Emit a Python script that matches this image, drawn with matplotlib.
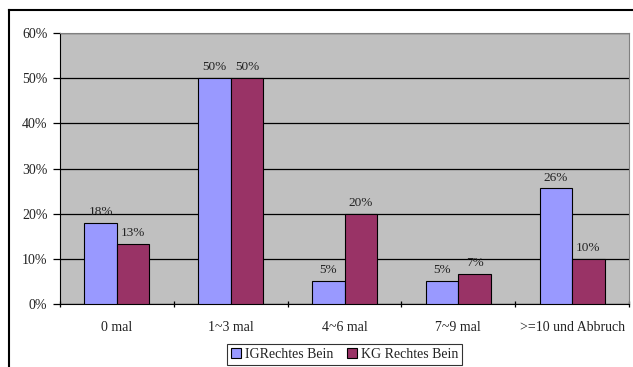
import numpy as np
import matplotlib.pyplot as plt
from matplotlib.lines import Line2D
from matplotlib.patches import Patch

categories = ['0 mal', '1~3 mal', '4~6 mal', '7~9 mal', '>=10 und Abbruch']
ig_values = [0.180, 0.500, 0.051, 0.051, 0.256]
kg_values = [0.133, 0.500, 0.200, 0.067, 0.100]
series_names = ['IGRechtes Bein', 'KG Rechtes Bein']
y_ticks = [0.0, 0.1, 0.2, 0.3, 0.4, 0.5, 0.6]

plt.rcParams['font.family'] = ['Liberation Serif', 'DejaVu Serif']
W, H = 633, 367
fig = plt.figure(figsize=(W / 100, H / 100), dpi=100)

# plot area in pixel coordinates
left, right, top, bottom = 60, 629, 33, 304
ax = fig.add_axes([left / W, 1 - bottom / H, (right - left) / W, (bottom - top) / H])
ax.set_facecolor('#C0C0C0')

x = np.arange(len(categories))
w = 0.285
blue, red = '#9999FF', '#993366'
txt = '#222222'
b1 = ax.bar(x - w / 2, ig_values, w, color=blue, edgecolor='black', linewidth=0.8, zorder=3)
b2 = ax.bar(x + w / 2, kg_values, w, color=red, edgecolor='black', linewidth=0.8, zorder=3)

for bars, vals in ((b1, ig_values), (b2, kg_values)):
    for b, v in zip(bars, vals):
        ax.annotate(f'{v * 100:.0f}%', (b.get_x() + b.get_width() / 2, v),
                    xytext=(0, 3.5), textcoords='offset points',
                    ha='center', va='bottom', fontsize=9.5, color=txt, zorder=4)

ax.set_xlim(-0.5, len(categories) - 0.5)
ax.set_ylim(0, 0.6)
ax.set_yticks(y_ticks)
ax.set_yticklabels([f'{t * 100:.0f}%' for t in y_ticks], fontsize=10, color=txt)
ax.yaxis.grid(True, color='black', linewidth=0.9, zorder=1)

ax.set_xticks(x)
ax.set_xticklabels(categories, fontsize=10, color=txt)
ax.set_xticks(np.arange(-0.5, len(categories)), minor=True)
ax.tick_params(axis='x', which='major', length=0, pad=12)
ax.tick_params(axis='x', which='minor', length=5, width=0.9, direction='inout')
ax.tick_params(axis='y', length=5, width=0.9, pad=4)

for side in ('top', 'right'):
    ax.spines[side].set_color('#808080')
ax.spines['left'].set_color('black')
ax.spines['bottom'].set_color('black')

handles = [Patch(facecolor=blue, edgecolor='black', linewidth=0.8),
           Patch(facecolor=red, edgecolor='black', linewidth=0.8)]
leg = fig.legend(handles, series_names, loc='center', ncol=2,
                 bbox_to_anchor=(344.5 / W, 1 - 354.5 / H),
                 fontsize=10, frameon=True, fancybox=False, edgecolor='black',
                 handlelength=0.7, handleheight=0.7, handletextpad=0.3,
                 columnspacing=1.0, borderpad=0.3, borderaxespad=0)
leg.get_frame().set_linewidth(0.8)
for t in leg.get_texts():
    t.set_color(txt)

# outer chart frame
fig.add_artist(Line2D([9 / W, 9 / W], [0, 1 - 10 / H], color='black', linewidth=1.5))
fig.add_artist(Line2D([9 / W, 1], [1 - 10 / H, 1 - 10 / H], color='black', linewidth=1.5))

fig.savefig('out.png', dpi=100)
